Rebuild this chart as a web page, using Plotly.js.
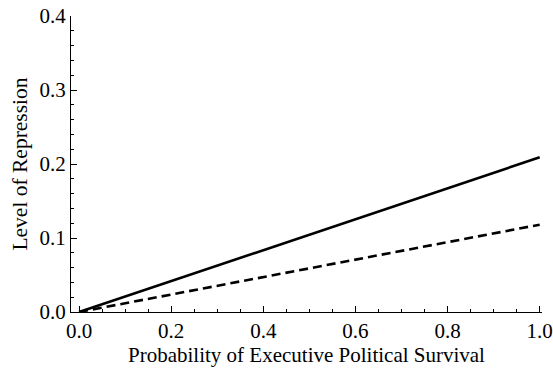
<!DOCTYPE html>
<html><head><meta charset="utf-8">
<script src="https://cdn.plot.ly/plotly-3.0.1.min.js"></script>
<style>html,body{margin:0;padding:0;background:#fff}#chart{width:553px;height:368px}</style>
</head><body><div id="chart"></div>
<script>
const survivalProb = [0, 1];
const repressionSolid = [0, 0.209];
const repressionDashed = [0, 0.118];
const xTickVals = [0, 0.2, 0.4, 0.6, 0.8, 1.0];
const xTickText = ['0.0', '0.2', '0.4', '0.6', '0.8', '1.0'];
const yTickVals = [0, 0.1, 0.2, 0.3, 0.4];
const yTickText = ['0.0', '0.1', '0.2', '0.3', '0.4'];

const font = '"Liberation Serif", "Times New Roman", serif';
const traces = [
  {x: survivalProb, y: repressionSolid, mode: 'lines', line: {color: '#000', width: 2.6}, hoverinfo: 'skip'},
  {x: survivalProb, y: repressionDashed, mode: 'lines', line: {color: '#000', width: 2.6, dash: '9px,5px'}, hoverinfo: 'skip'}
];
const layout = {
  width: 553, height: 368,
  margin: {l: 71, r: 11, t: 16, b: 56},
  paper_bgcolor: '#fff', plot_bgcolor: '#fff',
  showlegend: false,
  font: {family: font, color: '#000', size: 21},
  xaxis: {
    range: [-0.0175, 1.005], showgrid: false, zeroline: false,
    showline: true, linecolor: '#000', linewidth: 1,
    tickmode: 'array', tickvals: xTickVals, ticktext: xTickText,
    ticks: 'inside', ticklen: 6, tickwidth: 1, tickcolor: '#000',
    minor: {dtick: 0.05, ticks: 'inside', ticklen: 3, tickwidth: 1, tickcolor: '#000', showgrid: false},
    tickfont: {family: font, size: 21, color: '#000'},
    title: {text: 'Probability of Executive Political Survival', font: {family: font, size: 21, color: '#000'}, standoff: 4}
  },
  yaxis: {
    range: [0, 0.4], showgrid: false, zeroline: false,
    showline: true, linecolor: '#000', linewidth: 1,
    tickmode: 'array', tickvals: yTickVals, ticktext: yTickText,
    ticks: 'inside', ticklen: 6, tickwidth: 1, tickcolor: '#000',
    minor: {dtick: 0.02, ticks: 'inside', ticklen: 3, tickwidth: 1, tickcolor: '#000', showgrid: false},
    tickfont: {family: font, size: 21, color: '#000'},
    title: {text: 'Level of Repression', font: {family: font, size: 21.5, color: '#000'}, standoff: 6}
  }
};
Plotly.newPlot('chart', traces, layout, {staticPlot: true, displayModeBar: false});
</script></body></html>
